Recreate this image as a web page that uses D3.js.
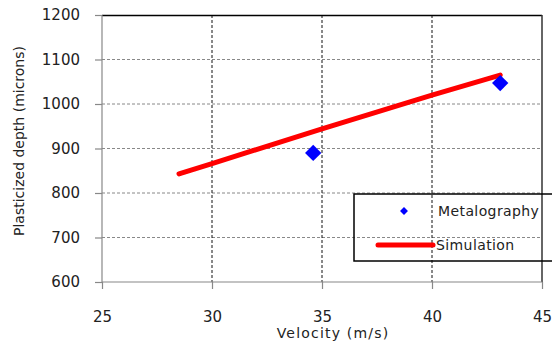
<!DOCTYPE html>
<html>
<head>
<meta charset="utf-8">
<script src="https://cdn.jsdelivr.net/npm/d3@7"></script>
<style>
  body { margin: 0; background: #fff; }
  svg { display: block; font-family: "DejaVu Sans", sans-serif; }
</style>
</head>
<body>
<div id="chart"></div>
<script>
// data
const xTicks = [25, 30, 35, 40, 45];
const yTicks = [600, 700, 800, 900, 1000, 1100, 1200];
const metalography = [[34.6, 890], [43.1, 1047]];
const simulation = [[28.5, 843], [30, 866], [35, 944], [40, 1020], [43.1, 1065]];

const width = 552, height = 345;
const margin = { top: 15, right: 10, bottom: 63, left: 102 };
const iw = 542 - margin.left, ih = 282 - margin.top;

const svg = d3.select('#chart').append('svg')
  .attr('width', width).attr('height', height);
const g = svg.append('g').attr('transform', `translate(${margin.left},${margin.top})`);

const x = d3.scaleLinear().domain([25, 45]).range([0, iw]);
const y = d3.scaleLinear().domain([600, 1200]).range([ih, 0]);

// horizontal grid
g.selectAll('.hgrid').data(yTicks.slice(1, -1)).join('line')
  .attr('x1', 0).attr('x2', iw)
  .attr('y1', d => y(d)).attr('y2', d => y(d))
  .attr('stroke', '#888').attr('stroke-dasharray', '3,2');

// vertical grid
g.selectAll('.vgrid').data(xTicks.slice(1, -1)).join('line')
  .attr('x1', d => x(d)).attr('x2', d => x(d))
  .attr('y1', 0).attr('y2', ih)
  .attr('stroke', '#111').attr('stroke-dasharray', '3,2');

// plot border top/right
g.append('line').attr('x1', 0).attr('x2', iw).attr('y1', 0.5).attr('y2', 0.5)
  .attr('stroke', '#000').attr('stroke-width', 1.5);
g.append('line').attr('x1', iw).attr('x2', iw).attr('y1', 0).attr('y2', ih)
  .attr('stroke', '#333').attr('stroke-width', 1.5);

// axes
const yAxis = g.append('g')
  .call(d3.axisLeft(y).tickValues(yTicks).tickFormat(d3.format('d')).tickSize(7).tickPadding(15));
const xAxis = g.append('g').attr('transform', `translate(0,${ih})`)
  .call(d3.axisBottom(x).tickValues(xTicks).tickFormat(d3.format('d')).tickSize(7).tickPadding(22));
[yAxis, xAxis].forEach(a => {
  a.select('.domain').attr('stroke', '#888').attr('stroke-width', 1.2);
  a.selectAll('.tick line').attr('stroke', '#888').attr('stroke-width', 1.2);
  a.selectAll('.tick text').attr('font-size', 15).attr('fill', '#222')
    .attr('font-family', '"DejaVu Sans", sans-serif');
});
xAxis.select('.domain').attr('d', `M0,0H${iw}`);
yAxis.select('.domain').attr('d', `M0,${ih}V0`);

// simulation line
const line = d3.line().x(d => x(d[0])).y(d => y(d[1]));
g.append('path').datum(simulation)
  .attr('d', line).attr('fill', 'none')
  .attr('stroke', '#ff0000').attr('stroke-width', 5).attr('stroke-linecap', 'round');

// metalography diamonds
const diamond = d3.symbol().type(d3.symbolDiamond2).size(170);
g.selectAll('.pt').data(metalography).join('path')
  .attr('transform', d => `translate(${x(d[0])},${y(d[1])})`)
  .attr('d', diamond).attr('fill', '#0000ff');

// axis titles
svg.append('text').attr('x', 333).attr('y', 338).attr('text-anchor', 'middle')
  .attr('font-size', 14).attr('letter-spacing', 1.2).attr('fill', '#222').text('Velocity (m/s)');
svg.append('text').attr('transform', 'translate(24,141) rotate(-90)')
  .attr('text-anchor', 'middle').attr('font-size', 14).attr('fill', '#222')
  .text('Plasticized depth (microns)');

// legend
const lg = svg.append('g');
lg.append('rect').attr('x', 354).attr('y', 194).attr('width', 210).attr('height', 67)
  .attr('fill', 'none').attr('stroke', '#000').attr('stroke-width', 1.5);
lg.append('path').attr('transform', 'translate(404,211)')
  .attr('d', d3.symbol().type(d3.symbolDiamond2).size(40)).attr('fill', '#0000ff');
lg.append('text').attr('x', 438).attr('y', 216).attr('font-size', 14)
  .attr('letter-spacing', 0.4).attr('fill', '#222').text('Metalography');
lg.append('line').attr('x1', 378).attr('x2', 433).attr('y1', 245).attr('y2', 245)
  .attr('stroke', '#ff0000').attr('stroke-width', 5).attr('stroke-linecap', 'round');
lg.append('text').attr('x', 436).attr('y', 250).attr('font-size', 14)
  .attr('letter-spacing', 0.4).attr('fill', '#222').text('Simulation');
</script>
</body>
</html>
